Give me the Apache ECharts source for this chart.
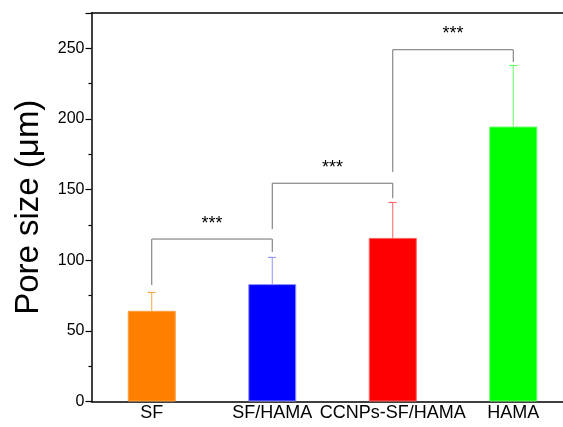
<!DOCTYPE html>
<html>
<head>
<meta charset="utf-8">
<script src="https://cdn.jsdelivr.net/npm/echarts@6/dist/echarts.min.js"></script>
<style>
  html, body { margin: 0; padding: 0; background: #fff; overflow: hidden; }
  #main { width: 563px; height: 427px; }
</style>
</head>
<body>
<div id="main"></div>
<script>
// data
var categories = ['SF', 'SF/HAMA', 'CCNPs-SF/HAMA', 'HAMA'];
var poreSize = [64.2, 83.1, 115.8, 194.6];
var poreErr = [13.0, 18.9, 25.1, 43.2];
var barColors = ['#FF8000', '#0000FF', '#FF0000', '#00FF00'];
var errColors = ['#FFA040', '#9090FF', '#FF6060', '#60FF60'];
// significance brackets: [fromIdx, toIdx, top, leftEnd, rightEnd, starsY]
var brackets = [
  [0, 1, 115, 82.4, 105.9, 125.5],
  [1, 2, 154.5, 122, 143.9, 165],
  [2, 3, 249, 162.5, 240.3, 260]
];

var dom = document.getElementById('main');
var myChart = echarts.init(dom);
var option = {
  animation: false,
  grid: {
    left: 91.5,
    right: -10.5,
    top: 13,
    bottom: 25.5,
    outerBoundsMode: 'none'
  },
  xAxis: [{
    type: 'category',
    data: categories,
    axisLine: { lineStyle: { color: '#000', width: 1.5 } },
    axisTick: { show: false },
    axisLabel: {
      color: '#000',
      fontSize: 18,
      fontFamily: 'Liberation Sans',
      margin: 3,
      interval: 0
    }
  }, {
    // top frame line
    type: 'category',
    position: 'top',
    data: categories,
    axisLine: { lineStyle: { color: '#000', width: 1.5 } },
    axisTick: { show: false },
    axisLabel: { show: false }
  }],
  yAxis: {
    type: 'value',
    min: 0,
    max: 275,
    interval: 50,
    name: 'Pore size (μm)',
    nameLocation: 'middle',
    nameGap: 46,
    nameTextStyle: {
      color: '#000',
      fontSize: 33,
      fontFamily: 'Liberation Sans'
    },
    splitLine: { show: false },
    axisLine: { show: true, lineStyle: { color: '#000', width: 1.5 } },
    axisTick: { show: true, length: 6, lineStyle: { color: '#000', width: 1.2 } },
    minorTick: { show: true, splitNumber: 2, length: 3, lineStyle: { color: '#000', width: 1.2 } },
    axisLabel: {
      color: '#000',
      fontSize: 16,
      fontFamily: 'Liberation Sans',
      margin: 7,
      formatter: function (v) { return v > 250 ? '' : v; }
    }
  },
  series: [{
    type: 'bar',
    barWidth: 48,
    data: poreSize.map(function (v, i) {
      return {
        value: v,
        itemStyle: { color: barColors[i], borderColor: errColors[i], borderWidth: 1 }
      };
    }),
    z: 2
  }, {
    // error bars (upper half only)
    type: 'custom',
    z: 3,
    data: poreSize.map(function (v, i) { return [i, v, v + poreErr[i]]; }),
    renderItem: function (params, api) {
      var i = api.value(0);
      var base = api.coord([i, api.value(1)]);
      var top = api.coord([i, api.value(2)]);
      var c = errColors[i];
      return {
        type: 'polyline',
        shape: { points: [base, top, [top[0] - 4, top[1]], [top[0] + 4, top[1]]] },
        style: { stroke: c, lineWidth: 1, fill: null }
      };
    }
  }, {
    // brackets with stars centred between the two bars
    type: 'custom',
    z: 4,
    data: brackets,
    renderItem: function (params, api) {
      var a = api.value(0), b = api.value(1);
      var pL = api.coord([a, api.value(3)]);
      var pR = api.coord([b, api.value(4)]);
      var tL = api.coord([a, api.value(2)]);
      var tR = api.coord([b, api.value(2)]);
      var s = api.coord([a, api.value(5)]);
      var mid = (tL[0] + tR[0]) / 2;
      return {
        type: 'group',
        children: [{
          type: 'polyline',
          shape: { points: [pL, tL, tR, pR] },
          style: { stroke: '#707070', lineWidth: 1, fill: null }
        }, {
          type: 'text',
          x: mid,
          y: s[1],
          style: {
            text: '***',
            fill: '#000',
            font: '18px "Liberation Sans"',
            align: 'center',
            verticalAlign: 'middle'
          }
        }]
      };
    }
  }]
};
myChart.setOption(option, true);
</script>
</body>
</html>
